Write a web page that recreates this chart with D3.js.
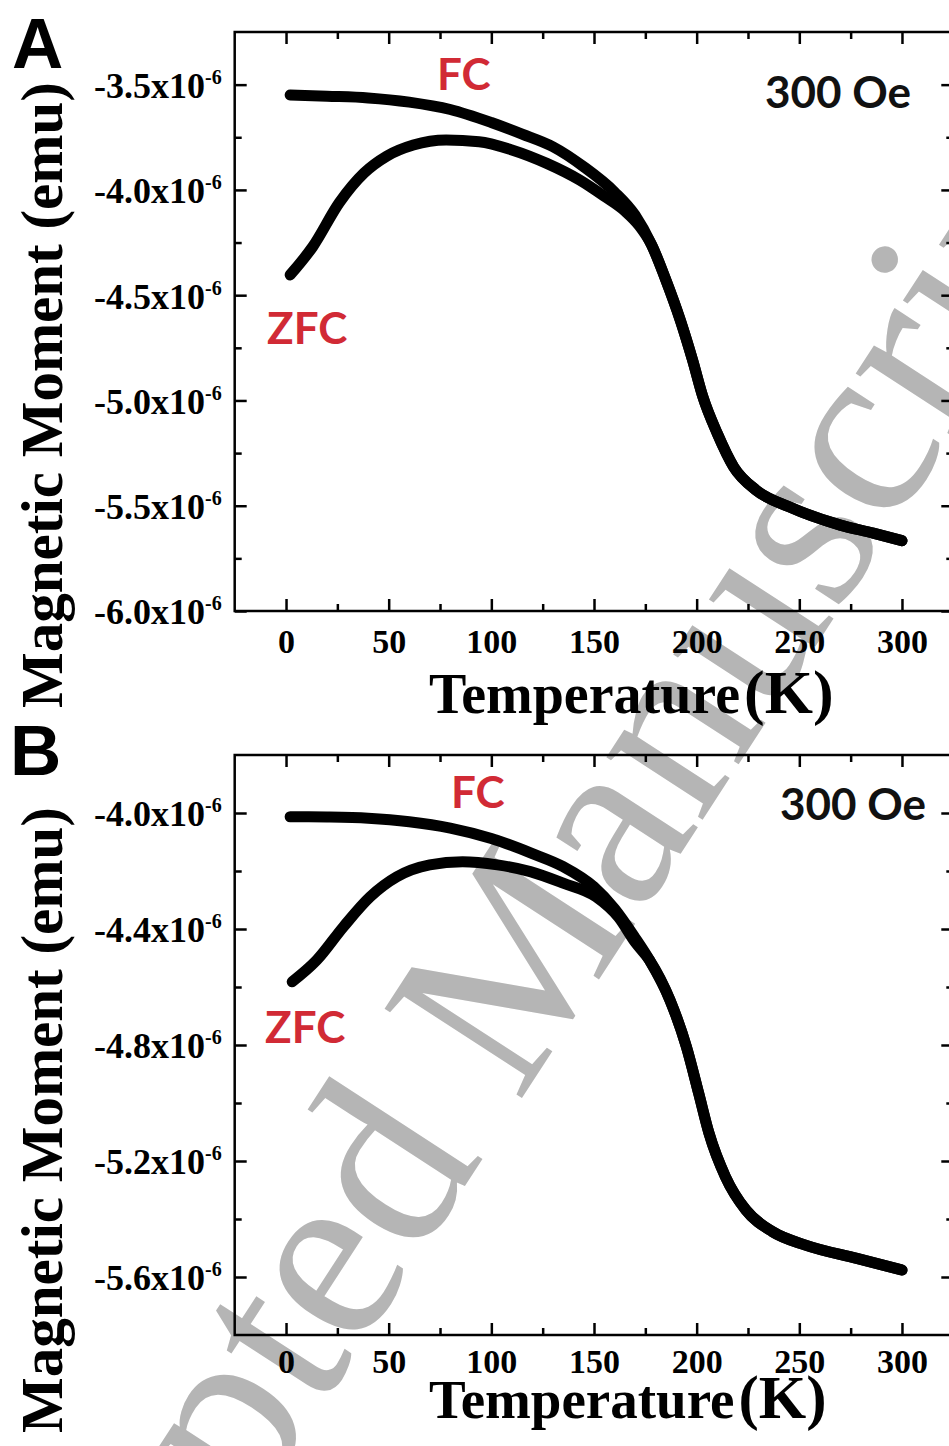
<!DOCTYPE html>
<html>
<head>
<meta charset="utf-8">
<script src="https://cdn.jsdelivr.net/npm/d3@7"></script>
<style>
  body { margin: 0; background: #fff; }
  svg { display: block; }
</style>
</head>
<body>
<svg id="fig" width="949" height="1446"></svg>
<script>
// moments in units of 1e-6 emu, temperature in K
var tempFcA = [2, 20, 40, 60, 80, 100, 115, 130, 145, 160, 170, 178, 185, 192, 198, 203, 210, 218, 229, 245, 270, 286, 300];
var momFcA = [-3.549, -3.555, -3.563, -3.583, -3.618, -3.68, -3.735, -3.795, -3.89, -4.01, -4.12, -4.26, -4.428, -4.618, -4.808, -4.982, -5.156, -5.315, -5.426, -5.505, -5.592, -5.630, -5.666];

var tempZfcA = [2, 13, 26, 38, 49, 62, 78, 94, 110, 127, 143, 155, 165, 172, 178, 185, 192, 198, 203, 210, 218, 229, 245, 270, 286, 300];
var momZfcA = [-4.404, -4.27, -4.06, -3.92, -3.84, -3.787, -3.763, -3.771, -3.81, -3.874, -3.953, -4.03, -4.10, -4.17, -4.26, -4.428, -4.618, -4.808, -4.982, -5.156, -5.315, -5.426, -5.505, -5.592, -5.630, -5.666];

var tempFcB = [2, 20, 40, 60, 80, 100, 120, 135, 150, 160, 170, 177, 187, 195, 201, 206, 214, 224, 237, 253, 278, 300];
var momFcB = [-4.013, -4.014, -4.018, -4.03, -4.052, -4.088, -4.14, -4.185, -4.255, -4.33, -4.43, -4.507, -4.645, -4.806, -4.967, -5.104, -5.254, -5.369, -5.444, -5.49, -5.536, -5.576];

var tempZfcB = [3, 15, 28, 41, 54, 70, 86, 103, 119, 135, 151, 162, 170, 177, 187, 195, 201, 206, 214, 224, 237, 253, 278, 300];
var momZfcB = [-4.582, -4.507, -4.392, -4.289, -4.22, -4.179, -4.168, -4.179, -4.202, -4.242, -4.289, -4.36, -4.445, -4.507, -4.645, -4.806, -4.967, -5.104, -5.254, -5.369, -5.444, -5.49, -5.536, -5.576];

var tempDomain = [-25, 325];
var tempMajor = [0, 50, 100, 150, 200, 250, 300];
var tempMinor = [25, 75, 125, 175, 225, 275];

var yDomainA = [-6.0, -3.25];
var yMajorA = [-3.5, -4.0, -4.5, -5.0, -5.5, -6.0];
var yMinorA = [-3.75, -4.25, -4.75, -5.25, -5.75];

var yDomainB = [-5.8, -3.8];
var yMajorB = [-4.0, -4.4, -4.8, -5.2, -5.6];
var yMinorB = [-4.2, -4.6, -5.0, -5.4];

var watermark = "Accepted Manuscript";

var svg = d3.select("#fig");
svg.append("rect").attr("width", 949).attr("height", 1446).attr("fill", "#fff");

// watermark sits under the plots
svg.append("text")
    .attr("transform", "translate(-30,1948) rotate(-57)")
    .attr("font-family", "Liberation Serif, serif")
    .attr("font-size", 250)
    .attr("fill", "#b5b5b5")
    .text(watermark);

function styleAxis(sel) {
    sel.select(".domain").remove();
    sel.attr("font-family", "Liberation Serif, serif")
        .attr("font-size", 34)
        .attr("font-weight", "bold");
    sel.selectAll("line").attr("stroke", "#000").attr("stroke-width", 2.5);
    sel.selectAll("text").attr("fill", "#000");
}

function drawPanel(p) {
    var x = d3.scaleLinear().domain(tempDomain).range([234.7, 953.3]);
    var y = d3.scaleLinear().domain(p.yDomain).range([p.bottom, p.top]);
    var g = svg.append("g");

    // bottom
    g.append("g").attr("transform", "translate(0," + p.bottom + ")")
        .call(d3.axisBottom(x).tickValues(tempMajor).tickSize(-12).tickPadding(p.xPad).tickFormat(d3.format("d")))
        .call(styleAxis);
    g.append("g").attr("transform", "translate(0," + p.bottom + ")")
        .call(d3.axisBottom(x).tickValues(tempMinor).tickSize(-7).tickFormat(""))
        .call(styleAxis);
    // top
    g.append("g").attr("transform", "translate(0," + p.top + ")")
        .call(d3.axisTop(x).tickValues(tempMajor).tickSize(-12).tickFormat(""))
        .call(styleAxis);
    g.append("g").attr("transform", "translate(0," + p.top + ")")
        .call(d3.axisTop(x).tickValues(tempMinor).tickSize(-7).tickFormat(""))
        .call(styleAxis);
    // left
    var left = g.append("g").attr("transform", "translate(" + x.range()[0] + ",0)")
        .call(d3.axisLeft(y).tickValues(p.yMajor).tickSize(-12).tickPadding(13)
            .tickFormat(function(d) { return d.toFixed(1) + "x10"; }))
        .call(styleAxis);
    left.selectAll(".tick text").attr("dy", "0.36em").attr("font-size", 36)
        .append("tspan").attr("dy", -14).attr("font-size", 20).text("-6");
    g.append("g").attr("transform", "translate(" + x.range()[0] + ",0)")
        .call(d3.axisLeft(y).tickValues(p.yMinor).tickSize(-7).tickFormat(""))
        .call(styleAxis);
    // right
    g.append("g").attr("transform", "translate(" + x.range()[1] + ",0)")
        .call(d3.axisRight(y).tickValues(p.yMajor).tickSize(-12).tickFormat(""))
        .call(styleAxis);
    g.append("g").attr("transform", "translate(" + x.range()[1] + ",0)")
        .call(d3.axisRight(y).tickValues(p.yMinor).tickSize(-7).tickFormat(""))
        .call(styleAxis);

    g.append("rect")
        .attr("x", x.range()[0]).attr("y", p.top)
        .attr("width", x.range()[1] - x.range()[0]).attr("height", p.bottom - p.top)
        .attr("fill", "none").attr("stroke", "#000").attr("stroke-width", 2.5);

    var line = d3.line()
        .x(function(d) { return x(d[0]); })
        .y(function(d) { return y(d[1]); })
        .curve(d3.curveMonotoneX);

    p.series.forEach(function(s) {
        var pts = s.t.map(function(t, i) { return [t, s.m[i]]; });
        g.append("path").datum(pts)
            .attr("d", line)
            .attr("fill", "none")
            .attr("stroke", "#000")
            .attr("stroke-width", 11)
            .attr("stroke-linecap", "round")
            .attr("stroke-linejoin", "round");
    });

    // panel letter
    g.append("text").attr("x", p.letterPos[0]).attr("y", p.letterPos[1])
        .attr("font-family", "Liberation Sans, Arial, sans-serif").attr("font-weight", "bold")
        .attr("font-size", 71).text(p.letter);

    // curve labels
    g.append("text").attr("x", p.fcPos[0]).attr("y", p.fcPos[1])
        .attr("font-family", "Lato, sans-serif").attr("font-weight", "bold")
        .attr("font-size", 44).attr("fill", "#d12a35").text("FC");
    g.append("text").attr("x", p.zfcPos[0]).attr("y", p.zfcPos[1])
        .attr("font-family", "Lato, sans-serif").attr("font-weight", "bold")
        .attr("font-size", 44).attr("fill", "#d12a35").text("ZFC");
    g.append("text").attr("x", p.fieldPos[0]).attr("y", p.fieldPos[1])
        .attr("font-family", "Lato, sans-serif").attr("font-weight", "bold")
        .attr("font-size", 44).attr("fill", "#111").text("300 Oe");

    // axis titles
    var xt = g.append("text").attr("x", 429).attr("y", p.xTitleY)
        .attr("font-family", "Liberation Serif, serif").attr("font-weight", "bold")
        .attr("font-size", p.xTitleSize).text("Temperature");
    xt.append("tspan").attr("dx", 4).attr("font-size", p.xTitleSize + 6).text("(K)");

    g.append("text")
        .attr("transform", "translate(62," + p.yTitleY + ") rotate(-90)")
        .attr("text-anchor", "middle")
        .attr("font-family", "Liberation Serif, serif").attr("font-weight", "bold")
        .attr("font-size", 59).text("Magnetic Moment (emu)");
}

drawPanel({
    top: 32, bottom: 611,
    yDomain: yDomainA, yMajor: yMajorA, yMinor: yMinorA,
    series: [{ t: tempFcA, m: momFcA }, { t: tempZfcA, m: momZfcA }],
    letter: "A", letterPos: [12, 68],
    fcPos: [437, 90], zfcPos: [267, 344], fieldPos: [765, 108],
    xPad: 18, xTitleY: 713, xTitleSize: 56, yTitleY: 395
});

drawPanel({
    top: 755, bottom: 1335,
    yDomain: yDomainB, yMajor: yMajorB, yMinor: yMinorB,
    series: [{ t: tempFcB, m: momFcB }, { t: tempZfcB, m: momZfcB }],
    letter: "B", letterPos: [10, 775],
    fcPos: [451, 808], zfcPos: [265, 1043], fieldPos: [780, 820],
    xPad: 14, xTitleY: 1418, xTitleSize: 55, yTitleY: 1120
});
</script>
</body>
</html>
